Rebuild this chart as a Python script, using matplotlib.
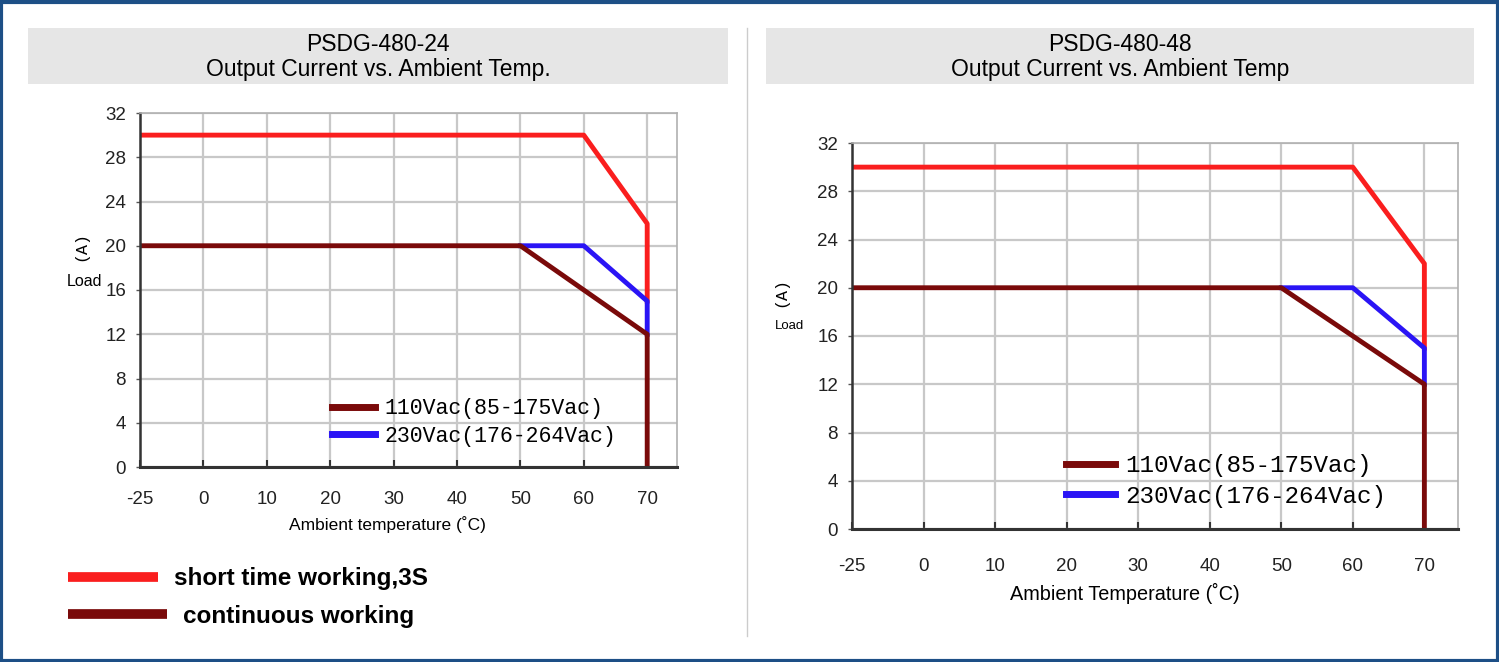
import numpy as np
import matplotlib
matplotlib.use("Agg")
import matplotlib.pyplot as plt
from matplotlib.patches import Rectangle
from matplotlib.lines import Line2D

# derating data (temperature in C, load in A)
red_t = [-25, 60, 70, 70]
red_a = [30, 30, 22, 15]
blue_t = [50, 60, 70, 70]
blue_a = [20, 20, 15, 12]
dark_t = [-25, 50, 60, 70, 70]
dark_a = [20, 20, 16, 12, 0]

x_ticks = [-25, 0, 10, 20, 30, 40, 50, 60, 70]
y_ticks = [0, 4, 8, 12, 16, 20, 24, 28, 32]

titles = ["PSDG-480-24\nOutput Current vs. Ambient Temp.",
          "PSDG-480-48\nOutput Current vs. Ambient Temp"]
xlabels = ["Ambient temperature (˚C)", "Ambient Temperature (˚C)"]
legend_labels = ["110Vac(85-175Vac)", "230Vac(176-264Vac)"]
bottom_labels = ["short time working,3S", "continuous working"]

RED = "#fa1e1e"
BLUE = "#2a14f5"
DARK = "#7a0a0a"
sans = ["Liberation Sans", "DejaVu Sans"]
mono = ["Liberation Mono", "DejaVu Sans Mono"]
W, H = 1499, 662


def fwd(t):
    t = np.asarray(t, dtype=float)
    return np.where(t < 0, (t + 25) / 25.0, 1 + t / 10.0)


def inv(p):
    p = np.asarray(p, dtype=float)
    return np.where(p < 1, p * 25 - 25, (p - 1) * 10)


fig = plt.figure(figsize=(14.99, 6.62), dpi=100)

# outer border and separator
fig.add_artist(Rectangle((0.001, 0.002), 0.998, 0.995, transform=fig.transFigure,
                         fill=False, edgecolor="#1d4f86", linewidth=3))
fig.add_artist(Line2D([747 / W, 747 / W], [1 - 28 / H, 1 - 636 / H],
                      transform=fig.transFigure, color="#cccccc", linewidth=1))

# gray title boxes
for (bx0, bx1), title in zip([(28, 728), (766, 1474)], titles):
    fig.add_artist(Rectangle((bx0 / W, 1 - 84 / H), (bx1 - bx0) / W, 56 / H,
                             transform=fig.transFigure, facecolor="#e6e6e6",
                             edgecolor="none"))
    fig.text((bx0 + bx1) / 2 / W, 1 - 57 / H, title, ha="center", va="center",
             fontsize=16.5, family=sans, linespacing=1.12)

# per chart: axes rect in px (left, bottom, right, top), legend anchor, sizes
charts = [
    dict(rect=(140, 467, 677, 113), leg=(332, 422.5), leg_fs=15.5, xl=(387, 525),
         xl_fs=12.5, xt_pad=17),
    dict(rect=(852, 529, 1458, 143), leg=(1066, 481), leg_fs=17.5, xl=(1125, 593),
         xl_fs=14.3, xt_pad=21),
]

for k, c in enumerate(charts):
    l, b, r, t = c["rect"]
    ax = fig.add_axes([l / W, 1 - b / H, (r - l) / W, (b - t) / H])
    ax.set_xscale("function", functions=(fwd, inv))
    ax.set_xlim(-25, 74.7)
    ax.set_ylim(0, 32)
    ax.set_xticks(x_ticks)
    ax.set_yticks(y_ticks)
    ax.set_xticklabels([str(v) for v in x_ticks])
    ax.grid(True, color="#c8c8c8", linewidth=1.6)
    ax.set_axisbelow(True)
    for s in ["top", "right"]:
        ax.spines[s].set_color("#b0b0b0")
        ax.spines[s].set_linewidth(1.2)
    ax.spines["left"].set_color("#333333")
    ax.spines["left"].set_linewidth(1.8)
    ax.spines["bottom"].set_color("#333333")
    ax.spines["bottom"].set_linewidth(2.2)
    ax.tick_params(axis="x", direction="in", length=5, width=1.5, color="#333333",
                   pad=c["xt_pad"], labelsize=13.5)
    ax.tick_params(axis="y", direction="out", length=3, width=1, color="#555555",
                   pad=7, labelsize=13.5)
    for lab in ax.get_xticklabels() + ax.get_yticklabels():
        lab.set_family(sans)
        lab.set_color("#222222")

    ax.plot(red_t, red_a, color=RED, linewidth=3.5)
    ax.plot(blue_t, blue_a, color=BLUE, linewidth=3.5)
    ax.plot(dark_t, dark_a, color=DARK, linewidth=3.5)

    lx, ly = c["leg"]
    ax.legend([Line2D([], [], color=DARK, linewidth=5),
               Line2D([], [], color=BLUE, linewidth=5)],
              legend_labels, loc="center left",
              bbox_to_anchor=((lx - l) / (r - l), (b - ly) / (b - t)),
              frameon=False, borderpad=0, borderaxespad=0,
              handlelength=2.0, handletextpad=0.45, labelspacing=0.32,
              prop={"family": mono, "size": c["leg_fs"]})

    xx, xy = c["xl"]
    ax.text((xx - l) / (r - l), (b - xy) / (b - t), xlabels[k], transform=ax.transAxes,
            ha="center", va="center", family=sans, fontsize=c["xl_fs"])

# y-axis labels
fig.text(81 / W, 1 - 246 / H, "(A)", rotation=90, ha="center", va="center",
         fontsize=12, family=mono)
fig.text(85 / W, 1 - 282 / H, "Load", ha="center", va="center", fontsize=11.5,
         family=sans)
fig.text(781 / W, 1 - 292 / H, "(A)", rotation=90, ha="center", va="center",
         fontsize=12, family=mono)
fig.text(789 / W, 1 - 326 / H, "Load", ha="center", va="center", fontsize=9.5,
         family=sans)

# bottom legend for left chart
fig.add_artist(Line2D([68 / W, 158 / W], [1 - 577 / H] * 2, transform=fig.transFigure,
                      color=RED, linewidth=7, solid_capstyle="butt"))
fig.add_artist(Line2D([68 / W, 167 / W], [1 - 614 / H] * 2, transform=fig.transFigure,
                      color=DARK, linewidth=7, solid_capstyle="butt"))
fig.text(174 / W, 1 - 578 / H, bottom_labels[0], ha="left", va="center",
         fontsize=17.5, fontweight="bold", family=sans)
fig.text(183 / W, 1 - 616 / H, bottom_labels[1], ha="left", va="center",
         fontsize=17.5, fontweight="bold", family=sans)

fig.savefig("out.png", dpi=100)
